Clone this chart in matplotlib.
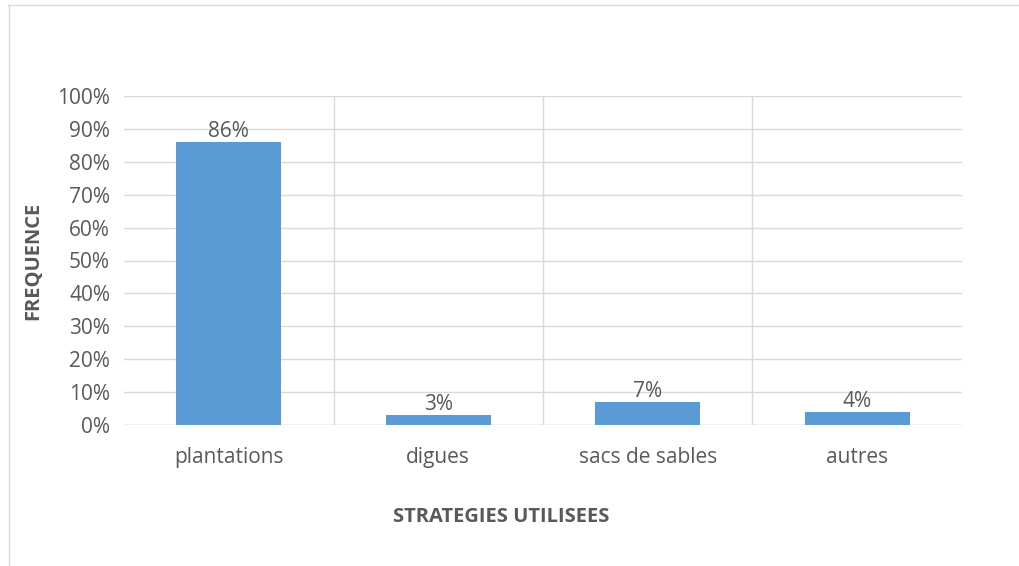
import numpy as np
import matplotlib.pyplot as plt
from matplotlib.lines import Line2D
from matplotlib.ticker import PercentFormatter

categories = ['plantations', 'digues', 'sacs de sables', 'autres']
values = [86, 3, 7, 4]
yticks = list(range(0, 101, 10))

plt.rcParams['font.family'] = ['Open Sans', 'DejaVu Sans']
TXT = '#595959'
GRID = '#D9D9D9'
FS = 15

fig = plt.figure(figsize=(10.19, 5.66), dpi=100)
ax = fig.add_axes([124 / 1019, 1 - 425 / 566, (962 - 124) / 1019, (425 - 96) / 566])

x = np.arange(len(categories))
bars = ax.bar(x, values, width=0.5, color='#5B9BD5', zorder=3)
for b, v in zip(bars, values):
    ax.text(b.get_x() + b.get_width() / 2, v + 0.1, f'{v}%', ha='center', va='bottom',
            fontsize=FS, color=TXT, zorder=4)

ax.set_xlim(-0.5, len(categories) - 0.5)
ax.set_ylim(0, 100)
ax.set_yticks(yticks)
ax.yaxis.set_major_formatter(PercentFormatter(decimals=0))
ax.set_xticks(x)
ax.set_xticklabels(categories)
ax.tick_params(axis='both', length=0, labelsize=FS, labelcolor=TXT)
ax.tick_params(axis='x', pad=16)
ax.tick_params(axis='y', pad=10)

# horizontal gridlines
ax.yaxis.grid(True, color=GRID, linewidth=1, zorder=0)
# vertical separators between categories
for b in x[:-1] + 0.5:
    ax.axvline(b, color=GRID, linewidth=1, zorder=0)
for s in ax.spines.values():
    s.set_visible(False)
ax.axhline(0, color=GRID, linewidth=1, zorder=2)

ax.set_ylabel('FREQUENCE', fontsize=14.5, fontweight='bold', color=TXT, labelpad=10)
fig.text(501 / 1019, 1 - 517 / 566, 'STRATEGIES UTILISEES', ha='center', va='center',
         fontsize=14.5, fontweight='bold', color=TXT)

# chart border (top and left visible)
fig.add_artist(Line2D([8 / 1019, 1], [1 - 4.5 / 566, 1 - 4.5 / 566], color=GRID, linewidth=1))
fig.add_artist(Line2D([8.5 / 1019, 8.5 / 1019], [0, 1 - 4.5 / 566], color=GRID, linewidth=1))

fig.savefig('out.png', dpi=100)
